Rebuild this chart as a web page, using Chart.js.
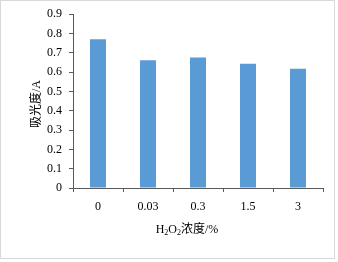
<!DOCTYPE html>
<html><head><meta charset="utf-8">
<script src="https://cdn.jsdelivr.net/npm/chart.js@4"></script>
<style>html,body{margin:0;padding:0;background:#fff;}#wrap{width:338px;height:262px;position:relative;}</style>
</head><body><div id="wrap"><canvas id="c" width="338" height="262"></canvas></div>
<script>
const categories = ["0", "0.03", "0.3", "1.5", "3"];
const absorbance = [0.770, 0.662, 0.676, 0.643, 0.617];
const yTicks = [0, 0.1, 0.2, 0.3, 0.4, 0.5, 0.6, 0.7, 0.8, 0.9];
const yTitle = "吸光度/A";
const xTitleParts = [["H", false], ["2", true], ["O", false], ["2", true], ["浓度/%", false]];

const serif = '"Liberation Serif", "Times New Roman", "Noto Sans CJK SC", serif';
const axisColor = '#595959';

const frame = {
  id: 'frame',
  beforeDraw(chart) {
    const ctx = chart.ctx;
    ctx.save();
    ctx.fillStyle = '#fff';
    ctx.fillRect(0, 0, chart.width, chart.height);
    ctx.strokeStyle = '#d9d9d9';
    ctx.lineWidth = 1;
    ctx.strokeRect(0.5, 0.5, 334, 258);
    ctx.restore();
  },
  afterDraw(chart) {
    const ctx = chart.ctx;
    ctx.save();
    ctx.fillStyle = '#000';
    ctx.textBaseline = 'middle';
    const big = '12px ' + serif, small = '8px ' + serif;
    let w = 0;
    xTitleParts.forEach(([t, sub]) => { ctx.font = sub ? small : big; w += ctx.measureText(t).width; });
    let x = 187 - w / 2;
    const y = 230;
    xTitleParts.forEach(([t, sub]) => {
      ctx.font = sub ? small : big;
      ctx.fillText(t, x, sub ? y + 3 : y);
      x += ctx.measureText(t).width;
    });
    ctx.translate(37, 104);
    ctx.rotate(-Math.PI / 2);
    ctx.font = big;
    ctx.textAlign = 'center';
    ctx.fillText(yTitle, 0, 0);
    ctx.restore();
  }
};

new Chart(document.getElementById('c'), {
  type: 'bar',
  data: { labels: categories, datasets: [{ data: absorbance, backgroundColor: '#5B9BD5', borderWidth: 0, barPercentage: 0.64, categoryPercentage: 0.5 }] },
  options: {
    responsive: false, animation: false,
    layout: { padding: { top: 13, right: 15, left: 0, bottom: 0 } },
    plugins: { legend: { display: false }, tooltip: { enabled: false } },
    scales: {
      x: {
        offset: true,
        grid: { display: true, drawOnChartArea: false, drawTicks: true, tickLength: 4, color: axisColor, offset: true },
        border: { display: true, color: axisColor, width: 1 },
        ticks: { color: '#000', font: { family: serif, size: 12 }, padding: 8, maxRotation: 0 },
        afterFit(s) { s.height = 74; }
      },
      y: {
        min: 0, max: 0.9,
        afterBuildTicks(s) { s.ticks = yTicks.map(v => ({ value: v })); },
        grid: { display: true, drawOnChartArea: false, drawTicks: true, tickLength: 4, color: axisColor },
        border: { display: true, color: axisColor, width: 1 },
        ticks: { color: '#000', font: { family: serif, size: 12 }, padding: 7, callback: v => String(Math.round(v * 10) / 10) },
        afterFit(s) { s.width = 73; }
      }
    }
  },
  plugins: [frame]
});
</script></body></html>
